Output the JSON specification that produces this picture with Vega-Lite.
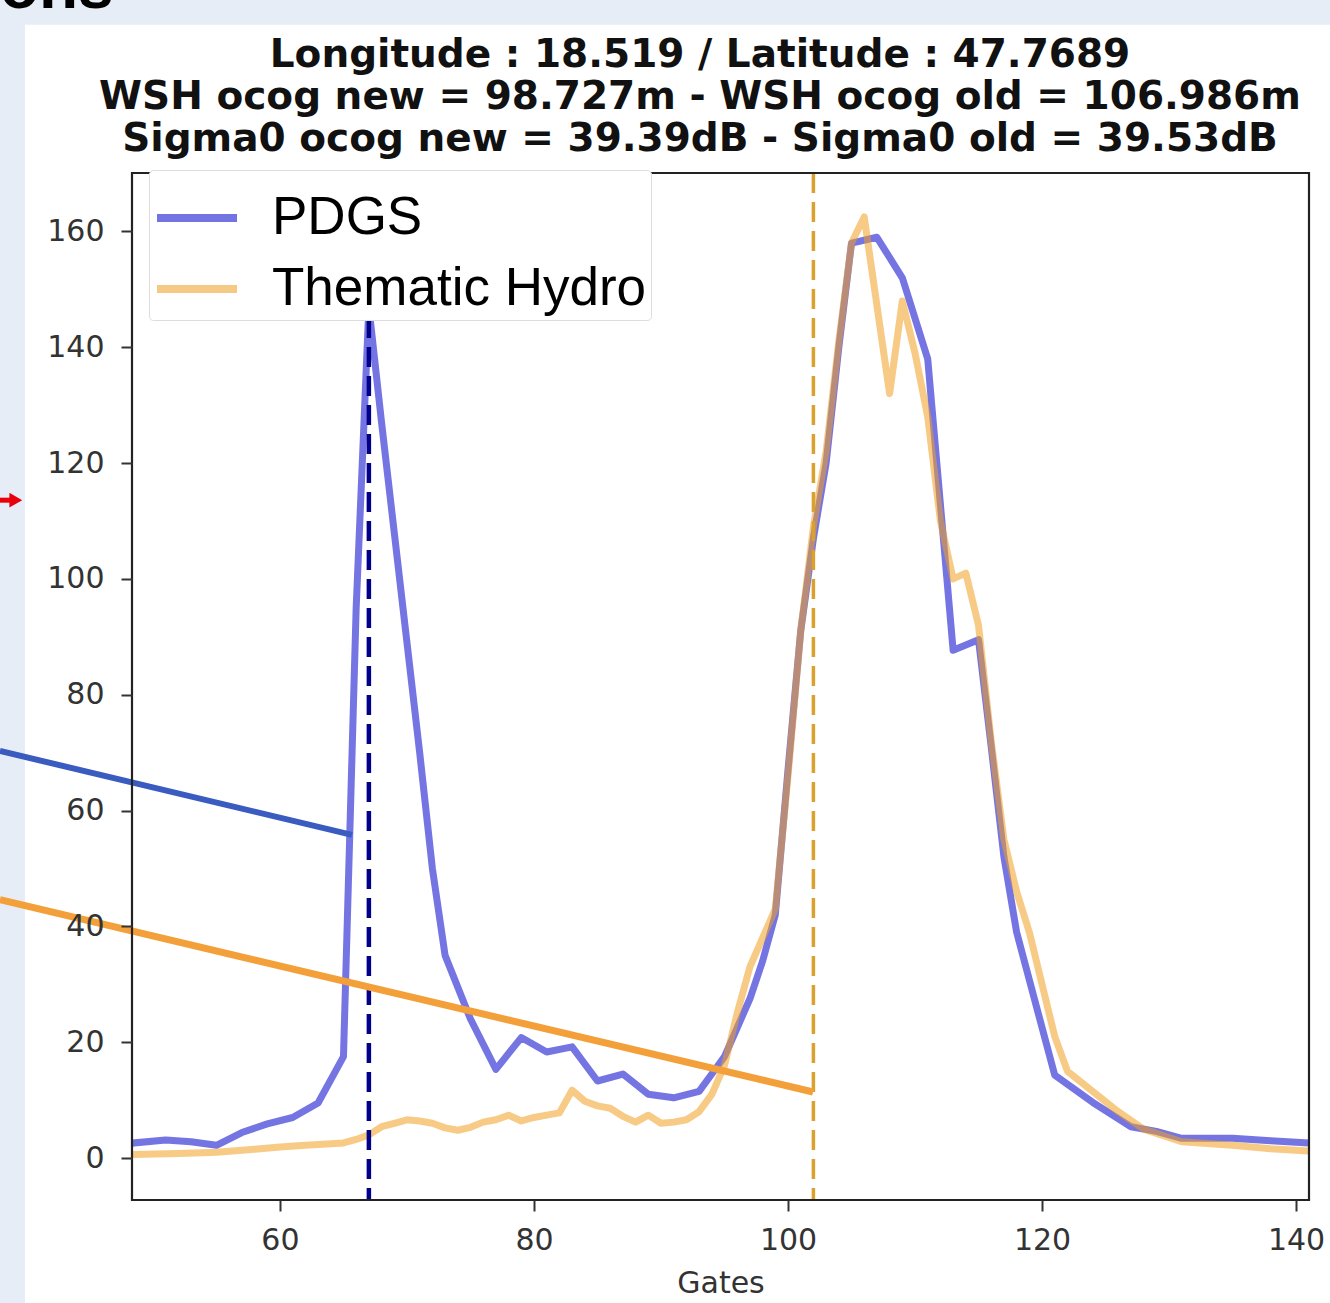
{
  "$schema": "https://vega.github.io/schema/vega-lite/v6.json",
  "width": 1177,
  "height": 1027,
  "autosize": "none",
  "padding": {"left": 132, "top": 173, "right": 21, "bottom": 103},
  "background": "#e7edf7",
  "config": {
    "view": {"stroke": null},
    "axis": {"grid": false, "domain": false, "labelFont": "DejaVu Sans", "titleFont": "DejaVu Sans", "labelFontSize": 30, "titleFontSize": 30, "titleFontWeight": "normal", "labelColor": "#333333", "titleColor": "#333333", "tickColor": "#333333", "tickSize": 11, "tickWidth": 2}
  },
  "layer": [
    {
      "data": {"values": [{}]},
      "mark": {"type": "rect", "fill": "white", "clip": false},
      "encoding": {
        "x": {"datum": 39.92, "type": "quantitative"},
        "x2": {"datum": 146},
        "y": {"datum": 195.7, "type": "quantitative"},
        "y2": {"datum": -27}
      }
    },
    {
      "data": {"values": [
        {"g": 48, "v": 2.5, "s": "PDGS"}, {"g": 51, "v": 3.1, "s": "PDGS"}, {"g": 53, "v": 2.8, "s": "PDGS"}, {"g": 55, "v": 2.2, "s": "PDGS"}, {"g": 57, "v": 4.4, "s": "PDGS"}, {"g": 59, "v": 5.9, "s": "PDGS"}, {"g": 61, "v": 7.0, "s": "PDGS"}, {"g": 63, "v": 9.5, "s": "PDGS"}, {"g": 65, "v": 17.5, "s": "PDGS"}, {"g": 66, "v": 95, "s": "PDGS"}, {"g": 67, "v": 147, "s": "PDGS"}, {"g": 68, "v": 127, "s": "PDGS"}, {"g": 69, "v": 108, "s": "PDGS"}, {"g": 70, "v": 89, "s": "PDGS"}, {"g": 71, "v": 70, "s": "PDGS"}, {"g": 72, "v": 50, "s": "PDGS"}, {"g": 73, "v": 35, "s": "PDGS"}, {"g": 75, "v": 24, "s": "PDGS"}, {"g": 77, "v": 15.3, "s": "PDGS"}, {"g": 79, "v": 20.8, "s": "PDGS"}, {"g": 81, "v": 18.3, "s": "PDGS"}, {"g": 83, "v": 19.2, "s": "PDGS"}, {"g": 85, "v": 13.3, "s": "PDGS"}, {"g": 87, "v": 14.5, "s": "PDGS"}, {"g": 89, "v": 11.0, "s": "PDGS"}, {"g": 91, "v": 10.4, "s": "PDGS"}, {"g": 93, "v": 11.5, "s": "PDGS"}, {"g": 94, "v": 14.5, "s": "PDGS"}, {"g": 95, "v": 17.5, "s": "PDGS"}, {"g": 96, "v": 22.5, "s": "PDGS"}, {"g": 97, "v": 27.5, "s": "PDGS"}, {"g": 98, "v": 34, "s": "PDGS"}, {"g": 99, "v": 42, "s": "PDGS"}, {"g": 100, "v": 67, "s": "PDGS"}, {"g": 101, "v": 91, "s": "PDGS"}, {"g": 102, "v": 107, "s": "PDGS"}, {"g": 103, "v": 120, "s": "PDGS"}, {"g": 104, "v": 140, "s": "PDGS"}, {"g": 105, "v": 158, "s": "PDGS"}, {"g": 107, "v": 159, "s": "PDGS"}, {"g": 109, "v": 152, "s": "PDGS"}, {"g": 111, "v": 138, "s": "PDGS"}, {"g": 113, "v": 87.7, "s": "PDGS"}, {"g": 115, "v": 89.5, "s": "PDGS"}, {"g": 116, "v": 71, "s": "PDGS"}, {"g": 117, "v": 52, "s": "PDGS"}, {"g": 118, "v": 39, "s": "PDGS"}, {"g": 121, "v": 14.3, "s": "PDGS"}, {"g": 124, "v": 9.6, "s": "PDGS"}, {"g": 127, "v": 5.4, "s": "PDGS"}, {"g": 129, "v": 4.6, "s": "PDGS"}, {"g": 131, "v": 3.4, "s": "PDGS"}, {"g": 135, "v": 3.4, "s": "PDGS"}, {"g": 138, "v": 3.0, "s": "PDGS"}, {"g": 141, "v": 2.6, "s": "PDGS"},
        {"g": 48, "v": 0.6, "s": "Thematic Hydro"}, {"g": 52, "v": 0.8, "s": "Thematic Hydro"}, {"g": 55, "v": 1.0, "s": "Thematic Hydro"}, {"g": 58, "v": 1.5, "s": "Thematic Hydro"}, {"g": 60, "v": 1.9, "s": "Thematic Hydro"}, {"g": 62, "v": 2.2, "s": "Thematic Hydro"}, {"g": 65, "v": 2.6, "s": "Thematic Hydro"}, {"g": 66, "v": 3.2, "s": "Thematic Hydro"}, {"g": 67, "v": 4.0, "s": "Thematic Hydro"}, {"g": 68, "v": 5.4, "s": "Thematic Hydro"}, {"g": 69, "v": 6.0, "s": "Thematic Hydro"}, {"g": 70, "v": 6.6, "s": "Thematic Hydro"}, {"g": 71, "v": 6.4, "s": "Thematic Hydro"}, {"g": 72, "v": 6.0, "s": "Thematic Hydro"}, {"g": 73, "v": 5.2, "s": "Thematic Hydro"}, {"g": 74, "v": 4.8, "s": "Thematic Hydro"}, {"g": 75, "v": 5.3, "s": "Thematic Hydro"}, {"g": 76, "v": 6.2, "s": "Thematic Hydro"}, {"g": 77, "v": 6.6, "s": "Thematic Hydro"}, {"g": 78, "v": 7.4, "s": "Thematic Hydro"}, {"g": 79, "v": 6.4, "s": "Thematic Hydro"}, {"g": 80, "v": 7.0, "s": "Thematic Hydro"}, {"g": 81, "v": 7.4, "s": "Thematic Hydro"}, {"g": 82, "v": 7.8, "s": "Thematic Hydro"}, {"g": 83, "v": 11.7, "s": "Thematic Hydro"}, {"g": 84, "v": 9.8, "s": "Thematic Hydro"}, {"g": 85, "v": 9.0, "s": "Thematic Hydro"}, {"g": 86, "v": 8.6, "s": "Thematic Hydro"}, {"g": 87, "v": 7.2, "s": "Thematic Hydro"}, {"g": 88, "v": 6.2, "s": "Thematic Hydro"}, {"g": 89, "v": 7.4, "s": "Thematic Hydro"}, {"g": 90, "v": 6.0, "s": "Thematic Hydro"}, {"g": 91, "v": 6.2, "s": "Thematic Hydro"}, {"g": 92, "v": 6.6, "s": "Thematic Hydro"}, {"g": 93, "v": 8.0, "s": "Thematic Hydro"}, {"g": 94, "v": 11.0, "s": "Thematic Hydro"}, {"g": 95, "v": 16, "s": "Thematic Hydro"}, {"g": 96, "v": 25, "s": "Thematic Hydro"}, {"g": 97, "v": 33, "s": "Thematic Hydro"}, {"g": 98, "v": 38, "s": "Thematic Hydro"}, {"g": 99, "v": 43, "s": "Thematic Hydro"}, {"g": 100, "v": 66, "s": "Thematic Hydro"}, {"g": 101, "v": 91, "s": "Thematic Hydro"}, {"g": 102, "v": 109, "s": "Thematic Hydro"}, {"g": 103, "v": 122, "s": "Thematic Hydro"}, {"g": 104, "v": 141, "s": "Thematic Hydro"}, {"g": 105, "v": 158, "s": "Thematic Hydro"}, {"g": 106, "v": 162.5, "s": "Thematic Hydro"}, {"g": 108, "v": 132, "s": "Thematic Hydro"}, {"g": 109, "v": 148, "s": "Thematic Hydro"}, {"g": 110, "v": 139, "s": "Thematic Hydro"}, {"g": 111, "v": 128, "s": "Thematic Hydro"}, {"g": 112, "v": 110, "s": "Thematic Hydro"}, {"g": 113, "v": 100, "s": "Thematic Hydro"}, {"g": 114, "v": 101, "s": "Thematic Hydro"}, {"g": 115, "v": 92, "s": "Thematic Hydro"}, {"g": 116, "v": 72, "s": "Thematic Hydro"}, {"g": 117, "v": 55, "s": "Thematic Hydro"}, {"g": 118, "v": 46, "s": "Thematic Hydro"}, {"g": 119, "v": 39, "s": "Thematic Hydro"}, {"g": 120, "v": 30, "s": "Thematic Hydro"}, {"g": 121, "v": 21, "s": "Thematic Hydro"}, {"g": 122, "v": 15, "s": "Thematic Hydro"}, {"g": 124, "v": 11.5, "s": "Thematic Hydro"}, {"g": 126, "v": 8, "s": "Thematic Hydro"}, {"g": 128, "v": 5, "s": "Thematic Hydro"}, {"g": 131, "v": 2.8, "s": "Thematic Hydro"}, {"g": 135, "v": 2.2, "s": "Thematic Hydro"}, {"g": 138, "v": 1.6, "s": "Thematic Hydro"}, {"g": 141, "v": 1.2, "s": "Thematic Hydro"}
      ]},
      "mark": {"type": "line", "strokeWidth": 7, "clip": true, "strokeJoin": "round"},
      "encoding": {
        "x": {"field": "g", "type": "quantitative", "scale": {"domain": [48.35, 141.02], "nice": false, "zero": false}, "axis": {"values": [60, 80, 100, 120, 140], "title": "Gates", "labelPadding": 14, "titlePadding": 13, "zindex": 2}},
        "y": {"field": "v", "type": "quantitative", "scale": {"domain": [-7.25, 170.1], "nice": false, "zero": false}, "axis": {"values": [0, 20, 40, 60, 80, 100, 120, 140, 160], "title": null, "labelPadding": 17, "zindex": 2}},
        "color": {"field": "s", "type": "nominal", "sort": ["PDGS", "Thematic Hydro"],
          "scale": {"domain": ["PDGS", "Thematic Hydro"], "range": ["#1e1ed0", "#f0a020"]},
          "legend": {"title": null, "orient": "none", "legendX": 17, "legendY": -3, "fillColor": "white", "strokeColor": "#dddddd", "cornerRadius": 4, "padding": 4, "symbolType": "stroke", "symbolSize": 6400, "symbolStrokeWidth": 8, "symbolOpacity": 0.6, "labelFontSize": 53, "labelFont": "Liberation Sans", "labelColor": "black", "labelOffset": 31, "rowPadding": -13, "labelLimit": 600}},
        "opacity": {"field": "s", "type": "nominal", "scale": {"domain": ["PDGS", "Thematic Hydro"], "range": [0.62, 0.55]}, "legend": null}
      }
    },
    {
      "data": {"values": [{}]},
      "mark": {"type": "rule", "color": "#00008b", "strokeWidth": 4.5, "strokeDash": [20, 9]},
      "encoding": {"x": {"datum": 67}}
    },
    {
      "data": {"values": [{}]},
      "mark": {"type": "rule", "color": "#d9a22e", "strokeWidth": 3.5, "strokeDash": [20, 9]},
      "encoding": {"x": {"datum": 102}}
    },
    {
      "data": {"values": [{}]},
      "mark": {"type": "rule", "color": "#3a5bbf", "strokeWidth": 6, "clip": false},
      "encoding": {"x": {"datum": 37.95}, "y": {"datum": 70.3}, "x2": {"datum": 65.67}, "y2": {"datum": 55.8}}
    },
    {
      "data": {"values": [{}]},
      "mark": {"type": "rule", "color": "#f4a03a", "strokeWidth": 7, "clip": false},
      "encoding": {"x": {"datum": 37.95}, "y": {"datum": 44.6}, "x2": {"datum": 101.97}, "y2": {"datum": 11.4}}
    },
    {
      "data": {"values": [{}]},
      "mark": {"type": "rule", "color": "#e8000b", "strokeWidth": 5, "clip": false},
      "encoding": {"x": {"datum": 37.95}, "y": {"datum": 113.6}, "x2": {"datum": 39.0}, "y2": {"datum": 113.6}}
    },
    {
      "data": {"values": [{}]},
      "mark": {"type": "point", "shape": "triangle-right", "filled": true, "color": "#e8000b", "size": 220, "opacity": 1, "clip": false},
      "encoding": {"x": {"datum": 39.2}, "y": {"datum": 113.6}}
    },
    {
      "data": {"values": [{}]},
      "mark": {"type": "text", "text": "ons", "font": "Liberation Sans", "fontSize": 64, "fontWeight": "bold", "color": "black", "align": "left", "baseline": "alphabetic", "clip": false},
      "encoding": {"x": {"datum": 37.95}, "y": {"datum": 198.6}}
    },
    {
      "data": {"values": [{}]},
      "mark": {"type": "text", "text": ["Longitude : 18.519 / Latitude : 47.7689", "WSH ocog new = 98.727m - WSH ocog old = 106.986m", "Sigma0 ocog new = 39.39dB - Sigma0 old = 39.53dB"], "font": "DejaVu Sans", "fontSize": 39, "fontWeight": "bold", "color": "#111111", "lineHeight": 42, "align": "center", "baseline": "alphabetic", "clip": false},
      "encoding": {"x": {"datum": 93.07}, "y": {"datum": 188.4}}
    },
    {
      "data": {"values": [{}]},
      "mark": {"type": "rect", "fillOpacity": 0, "stroke": "#222222", "strokeWidth": 2.2, "clip": false},
      "encoding": {"x": {"datum": 48.35}, "x2": {"datum": 141.02}, "y": {"datum": 170.1}, "y2": {"datum": -7.25}}
    }
  ]
}
